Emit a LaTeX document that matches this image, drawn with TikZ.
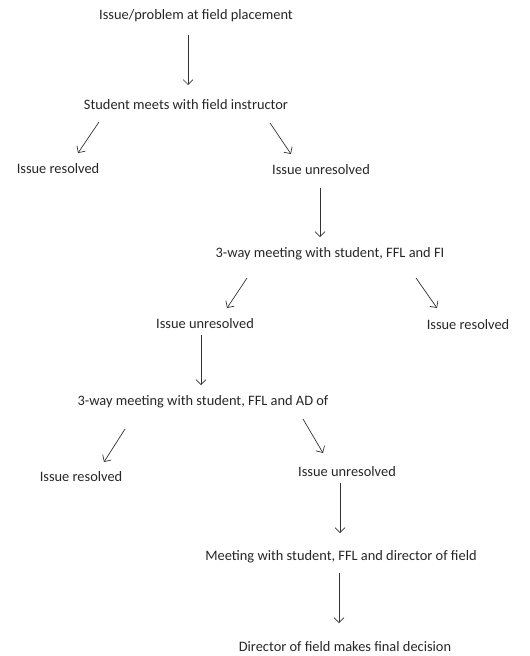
\documentclass[tikz,border=0pt]{standalone}
\usepackage{fontspec}
\setmainfont{Carlito}
\usetikzlibrary{arrows.meta}
\begin{document}
\begin{tikzpicture}[x=1pt,y=-1pt,
  lbl/.style={inner sep=0pt,font=\fontsize{14.4}{16}\selectfont,text=black!85},
  arr/.style={draw=black!80,line width=0.7pt,-{Straight Barb[length=5pt,width=10pt,line width=0.7pt]}}]
\useasboundingbox (0,0) rectangle (530,656);
\node[lbl] (n1) at (196,16) {Issue/problem at field placement};
\node[lbl] (n2) at (186,105) {Student meets with field instructor};
\node[lbl] (n3) at (58,169) {Issue resolved};
\node[lbl] (n4) at (321,170) {Issue unresolved};
\node[lbl] (n5) at (330,254) {3-way meeting with student, FFL and FI};
\node[lbl] (n6) at (205,324) {Issue unresolved};
\node[lbl] (n7) at (468,325) {Issue resolved};
\node[lbl] (n8) at (203,402) {3-way meeting with student, FFL and AD of};
\node[lbl] (n9) at (81,477) {Issue resolved};
\node[lbl] (n10) at (347,472) {Issue unresolved};
\node[lbl] (n11) at (341,557) {Meeting with student, FFL and director of field};
\node[lbl] (n12) at (345,647) {Director of field makes final decision};
% arrow end points
\coordinate (a1s) at (188,35);  \coordinate (a1e) at (188,85);
\coordinate (a2s) at (99,122);  \coordinate (a2e) at (78,153);
\coordinate (a3s) at (270,123); \coordinate (a3e) at (291,154);
\coordinate (a4s) at (320,188); \coordinate (a4e) at (320,237);
\coordinate (a5s) at (247,278); \coordinate (a5e) at (227,308);
\coordinate (a6s) at (416,278); \coordinate (a6e) at (437,308);
\coordinate (a7s) at (201,335); \coordinate (a7e) at (201,385);
\coordinate (a8s) at (125,429); \coordinate (a8e) at (104,462);
\coordinate (a9s) at (303,419); \coordinate (a9e) at (323,453);
\coordinate (a10s) at (340,483); \coordinate (a10e) at (340,533);
\coordinate (a11s) at (339,573); \coordinate (a11e) at (339,623);
\draw[arr] (a1s) -- (a1e);
\draw[arr] (a2s) -- (a2e);
\draw[arr] (a3s) -- (a3e);
\draw[arr] (a4s) -- (a4e);
\draw[arr] (a5s) -- (a5e);
\draw[arr] (a6s) -- (a6e);
\draw[arr] (a7s) -- (a7e);
\draw[arr] (a8s) -- (a8e);
\draw[arr] (a9s) -- (a9e);
\draw[arr] (a10s) -- (a10e);
\draw[arr] (a11s) -- (a11e);
\end{tikzpicture}
\end{document}
